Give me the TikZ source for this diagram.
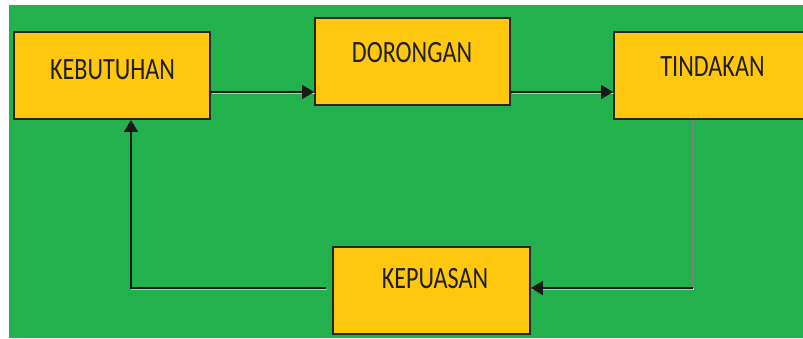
\documentclass[tikz,border=0pt]{standalone}
\usepackage{fontspec}
\setmainfont{Carlito}[FakeStretch=0.78]
\usetikzlibrary{arrows.meta}
\definecolor{bggreen}{HTML}{22B14C}
\definecolor{boxyellow}{HTML}{FFC80E}
\begin{document}
\begin{tikzpicture}[x=1pt,y=-1pt,
  box/.style={draw=black!85, line width=1.8pt, fill=boxyellow, minimum width=196pt, minimum height=87pt, inner sep=0pt},
  lbl/.style={font=\fontsize{31}{33}\selectfont, text=black!88, inner sep=0pt},
  conn/.style={line width=1.5pt, draw=black!90, preaction={draw=white, opacity=0.55, line width=1.1pt, -, transform canvas={shift={(0.8pt,-1.6pt)}}}},
  arr/.style={conn, -{Triangle[length=12pt,width=14pt]}}]
\useasboundingbox (0,0) rectangle (803,338);
\fill[white] (0,0) rectangle (803,338);
\fill[bggreen] (9,5) rectangle (803,338);

\node[box] (keb) at (112,75.5) {};
\node[box, minimum width=195pt] (dor) at (412.5,61.5) {};
\node[box, minimum width=200pt] (tin) at (714,75.5) {};
\node[box, minimum width=197pt] (kep) at (431.5,290.5) {};

\node[lbl] (kebt) at (112.5,70) {KEBUTUHAN};
\node[lbl] (dort) at (412,52.5) {DORONGAN};
\node[lbl] (tint) at (712.5,66.5) {TINDAKAN};
\node[lbl] (kept) at (435,279) {KEPUASAN};

\coordinate (ya) at (0,92);
\coordinate (rc) at (693,288);
\coordinate (lc) at (131,288);

\draw[arr] (keb.east |- ya) -- (dor.west |- ya);
\draw[arr] (dor.east |- ya) -- (tin.west |- ya);
\draw[conn, draw=black!50] (tin.south -| rc) -- (rc);
\draw[arr] (rc) -- (kep.east |- rc);
\draw[arr, shorten <=6pt] (kep.west |- lc) -- (lc) -- (keb.south -| lc);
\end{tikzpicture}
\end{document}
